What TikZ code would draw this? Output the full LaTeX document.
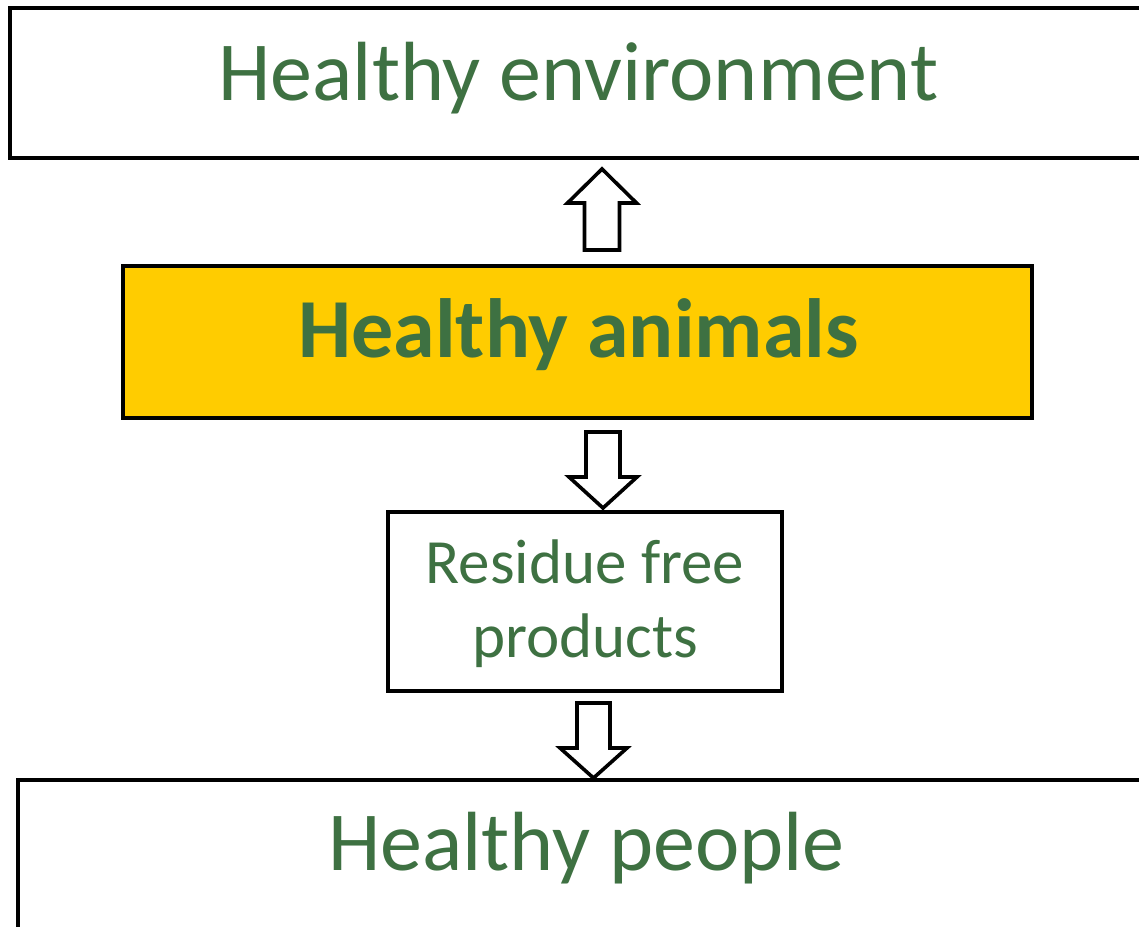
\documentclass[tikz,border=0pt]{standalone}
\usepackage{fontspec}
\setmainfont{Carlito}
\definecolor{txtgreen}{HTML}{3E7142}
\definecolor{gold}{HTML}{FFCC00}
\begin{document}
\begin{tikzpicture}[x=1pt,y=-1pt,
  box/.style={draw,line width=4pt,inner sep=0pt,outer sep=0pt,anchor=north west},
  txt/.style={text=txtgreen,anchor=base,inner sep=0pt},
  big/.style={font=\fontsize{84}{100}\selectfont},
  small/.style={font=\fontsize{63}{74}\selectfont},
  harrow/.style={draw,line width=3.6pt,fill=white,line join=miter}]
\useasboundingbox (0,0) rectangle (1139,926);
% boxes
\node[box,minimum width=1170,minimum height=150] (env) at (10,8) {};
\node[box,fill=gold,minimum width=909,minimum height=152] (ani) at (123,266) {};
\node[box,minimum width=394,minimum height=179] (res) at (388,512) {};
\node[box,minimum width=1170,minimum height=200] (ppl) at (18,780) {};
% texts
\node[txt,big] (envt) at (578.5,100) {Healthy environment};
\node[txt,big,font=\fontsize{84}{100}\selectfont\bfseries] (anit) at (578.5,357) {Healthy animals};
\node[txt,small] (rest1) at (585,583) {Residue free};
\node[txt,small] (rest2) at (585,657) {products};
\node[txt,big] (pplt) at (586.5,870) {Healthy people};
% arrow anchors
\coordinate (u1) at (602,169);
\coordinate (d1) at (603,508);
\coordinate (d2) at (593.5,778);
% up arrow: animals -> environment
\draw[harrow] (u1) -- ++(34.5,34) -- ++(-17,0) -- ++(0,47) -- ++(-35,0) -- ++(0,-47) -- ++(-17,0) -- cycle;
% down arrow: animals -> residue
\draw[harrow] (d1) -- ++(34,-31) -- ++(-17,0) -- ++(0,-45) -- ++(-34,0) -- ++(0,45) -- ++(-17,0) -- cycle;
% down arrow: residue -> people
\draw[harrow] (d2) -- ++(33.5,-30) -- ++(-17,0) -- ++(0,-45) -- ++(-33,0) -- ++(0,45) -- ++(-17,0) -- cycle;
\end{tikzpicture}
\end{document}
